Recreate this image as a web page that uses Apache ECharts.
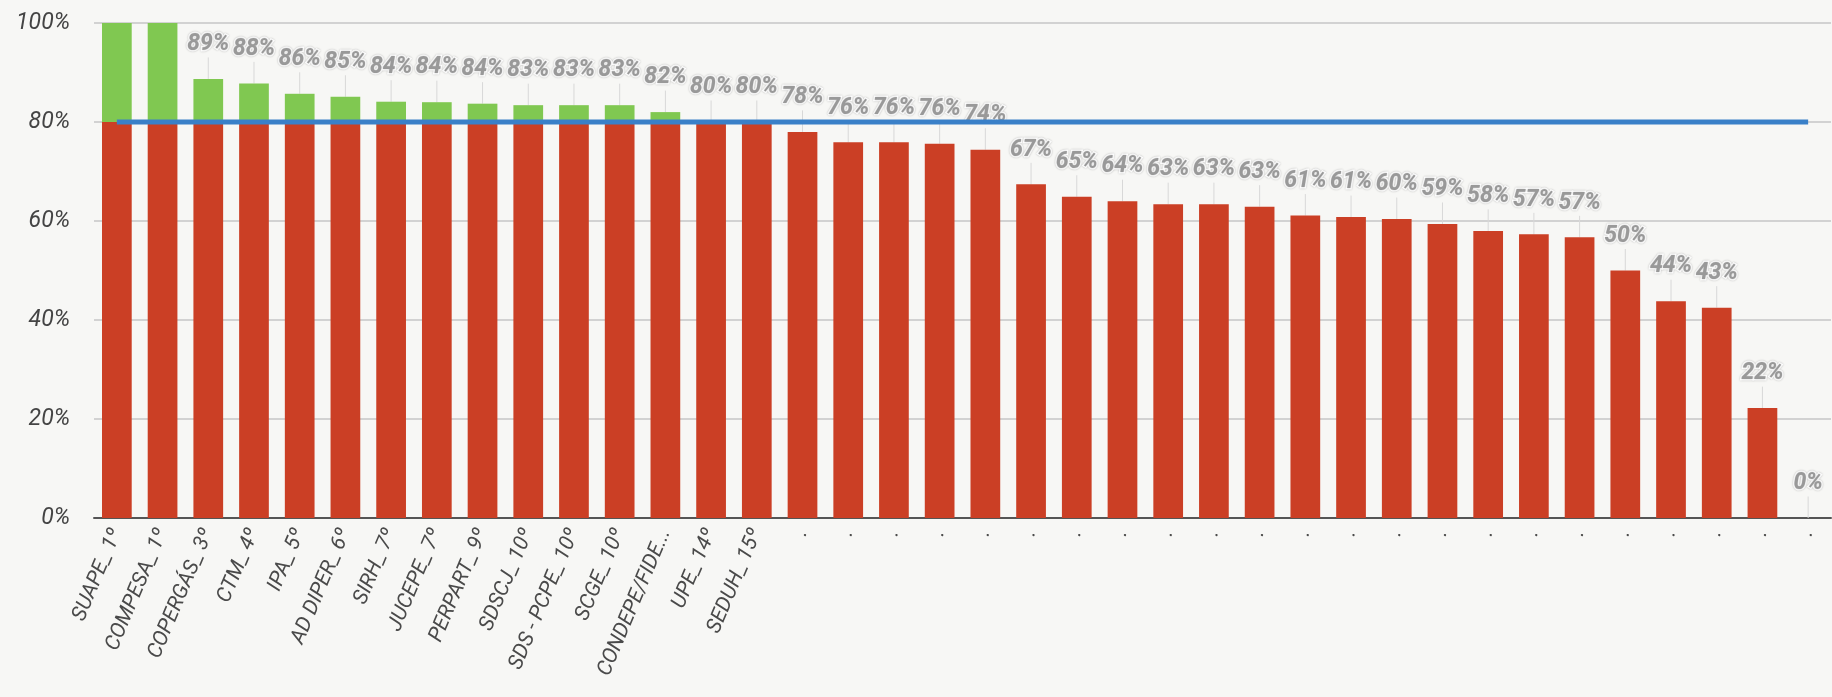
<!DOCTYPE html>
<html>
<head>
<meta charset="utf-8">
<script src="https://cdn.jsdelivr.net/npm/echarts@6/dist/echarts.min.js"></script>
<style>
html,body{margin:0;padding:0;background:#f7f7f5;}
#chart{width:1832px;height:697px;}
</style>
</head>
<body>
<div id="chart"></div>
<script>
const categories = ["SUAPE_ 1º","COMPESA_ 1º","COPERGÁS_ 3º","CTM_ 4º","IPA_ 5º","AD DIPER_ 6º","SIRH_ 7º","JUCEPE_ 7º","PERPART_ 9º","SDSCJ_ 10º","SDS - PCPE_ 10º","SCGE_ 10º","CONDEPE/FIDE...","UPE_ 14º","SEDUH_ 15º",
  ".",".",".",".",".",".",".",".",".",".",".",".",".",".",".",".",".",".",".",".",".",".","."];
const values = [100,100,88.7,87.8,85.7,85.1,84.1,84.0,83.7,83.4,83.4,83.4,82.0,80.0,80.0,
  78.0,75.9,75.9,75.6,74.4,67.4,64.9,64.0,63.4,63.4,62.9,61.1,60.8,60.4,59.4,58.0,57.3,56.7,50.0,43.8,42.5,22.2,0];
const target = 80;
const targetLine = categories.map(() => target);
const yTicks = {min: 0, max: 100, interval: 20};

const redPart = values.map(v => Math.min(v, target));
const greenPart = values.map((v, i) => ({
  value: Math.max(v - target, 0),
  label: {show: v < 100}
}));

const chart = echarts.init(document.getElementById('chart'));
chart.setOption({
  backgroundColor: '#f7f7f5',
  animation: false,
  grid: {left: 94, right: 1, top: 23, bottom: 179},
  xAxis: {
    type: 'category',
    data: categories,
    axisLine: {lineStyle: {color: '#555', width: 2}},
    axisTick: {show: false},
    axisLabel: {
      interval: 0, rotate: 67, margin: 12,
      color: '#4a4a4a', fontSize: 21, fontStyle: 'italic', fontFamily: 'Roboto'
    }
  },
  yAxis: {
    type: 'value',
    min: yTicks.min, max: yTicks.max, interval: yTicks.interval,
    axisLine: {show: false},
    axisTick: {show: false},
    splitLine: {lineStyle: {color: '#d2d2d2', width: 2}},
    axisLabel: {
      formatter: '{value}%', margin: 24,
      color: '#444', fontSize: 23, fontStyle: 'italic', fontFamily: 'Roboto'
    }
  },
  series: [
    {
      type: 'bar', stack: 'a', data: redPart, barCategoryGap: '35%',
      itemStyle: {color: '#cb3f25'}
    },
    {
      type: 'bar', stack: 'a', data: greenPart,
      itemStyle: {color: '#80c851'},
      label: {
        show: true, position: 'top', distance: 5,
        formatter: p => Math.round(values[p.dataIndex]) + '%',
        color: '#999', fontSize: 23, fontWeight: 'bold', fontStyle: 'italic',
        fontFamily: 'Roboto', textBorderColor: '#fff', textBorderWidth: 3,
        textShadowColor: 'rgba(0,0,0,0.25)', textShadowBlur: 2
      },
      labelLayout: {dy: -18},
      labelLine: {show: true, lineStyle: {color: '#d8d8d8', width: 1}}
    },
    {
      type: 'line', data: targetLine, symbol: 'none', z: 5,
      lineStyle: {color: '#3a80c8', width: 5}
    }
  ]
});
</script>
</body>
</html>
